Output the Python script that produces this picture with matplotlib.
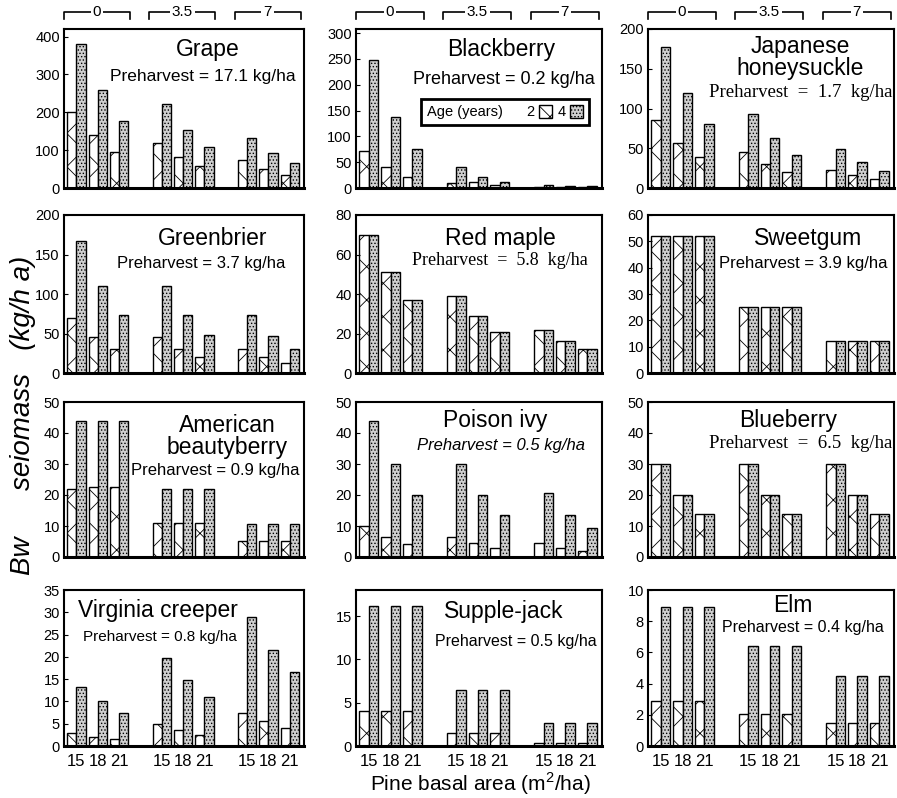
import numpy as np
import matplotlib.pyplot as plt
import matplotlib.patches as mpatches

plt.rcParams['font.family'] = ['Liberation Sans', 'DejaVu Sans']
plt.rcParams['hatch.linewidth'] = 0.6
plt.rcParams['mathtext.fontset'] = 'custom'
plt.rcParams['mathtext.rm'] = 'Liberation Sans'

# hardwood basal area groups and pine basal area within each group
hardwood_groups = ["0", "3.5", "7"]
pine_ba = ["15", "18", "21"]

# biomass (kg/ha), 9 values per species: (hardwood 0, 3.5, 7) x (pine 15, 18, 21)
grape_age2 = [200, 140, 95, 120, 82, 57, 73, 50, 35]
grape_age4 = [380, 258, 178, 222, 152, 107, 133, 93, 65]
blackberry_age2 = [72, 40, 22, 10, 12, 5, 2, 2, 1]
blackberry_age4 = [248, 137, 75, 40, 22, 12, 6, 4, 3]
honeysuckle_age2 = [85, 57, 39, 45, 30, 20, 23, 16, 11]
honeysuckle_age4 = [177, 120, 81, 93, 63, 42, 49, 33, 22]
greenbrier_age2 = [70, 46, 30, 46, 30, 20, 30, 20, 13]
greenbrier_age4 = [167, 110, 73, 110, 73, 48, 73, 47, 31]
redmaple_age2 = [70, 51, 37, 39, 29, 21, 22, 16, 12]
redmaple_age4 = [70, 51, 37, 39, 29, 21, 22, 16, 12]
sweetgum_age2 = [52, 52, 52, 25, 25, 25, 12, 12, 12]
sweetgum_age4 = [52, 52, 52, 25, 25, 25, 12, 12, 12]
beautyberry_age2 = [22, 22.5, 22.5, 11, 11, 11, 5.3, 5.3, 5.3]
beautyberry_age4 = [44, 44, 44, 22, 22, 22, 10.5, 10.5, 10.5]
poisonivy_age2 = [10, 6.5, 4.3, 6.5, 4.5, 3, 4.5, 3, 2]
poisonivy_age4 = [44, 30, 20, 30, 20, 13.5, 20.5, 13.5, 9.5]
blueberry_age2 = [30, 20, 14, 30, 20, 14, 30, 20, 14]
blueberry_age4 = [30, 20, 14, 30, 20, 14, 30, 20, 14]
creeper_age2 = [3, 2, 1.5, 5, 3.5, 2.5, 7.3, 5.5, 4]
creeper_age4 = [13.3, 10, 7.5, 19.7, 14.8, 11, 29, 21.5, 16.5]
supplejack_age2 = [4, 4, 4, 1.5, 1.5, 1.5, 0.3, 0.3, 0.3]
supplejack_age4 = [16.2, 16.2, 16.2, 6.5, 6.5, 6.5, 2.6, 2.6, 2.6]
elm_age2 = [2.9, 2.9, 2.9, 2.05, 2.05, 2.05, 1.45, 1.45, 1.45]
elm_age4 = [8.9, 8.9, 8.9, 6.4, 6.4, 6.4, 4.5, 4.5, 4.5]

species = ["Grape", "Blackberry", "Japanese\nhoneysuckle",
           "Greenbrier", "Red maple", "Sweetgum",
           "American\nbeautyberry", "Poison ivy", "Blueberry",
           "Virginia creeper", "Supple-jack", "Elm"]
preharvest = ["17.1", "0.2", "1.7", "3.7", "5.8", "3.9",
              "0.9", "0.5", "6.5", "0.8", "0.5", "0.4"]
age2 = [grape_age2, blackberry_age2, honeysuckle_age2,
        greenbrier_age2, redmaple_age2, sweetgum_age2,
        beautyberry_age2, poisonivy_age2, blueberry_age2,
        creeper_age2, supplejack_age2, elm_age2]
age4 = [grape_age4, blackberry_age4, honeysuckle_age4,
        greenbrier_age4, redmaple_age4, sweetgum_age4,
        beautyberry_age4, poisonivy_age4, blueberry_age4,
        creeper_age4, supplejack_age4, elm_age4]
ytop = [420, 308, 200, 200, 80, 60, 50, 50, 50, 35, 18, 10]
yticks = [np.arange(0, 401, 100), np.arange(0, 301, 50), np.arange(0, 201, 50),
          np.arange(0, 201, 50), np.arange(0, 81, 20), np.arange(0, 61, 10),
          np.arange(0, 51, 10), np.arange(0, 51, 10), np.arange(0, 51, 10),
          np.arange(0, 36, 5), np.arange(0, 16, 5), np.arange(0, 11, 2)]

# layout (axes fractions) for title and preharvest text, and its style
title_pos = [(0.60, 0.87), (0.59, 0.87), (0.62, 0.82),
             (0.62, 0.85), (0.585, 0.85), (0.65, 0.85),
             (0.68, 0.78), (0.565, 0.88), (0.57, 0.88),
             (0.39, 0.87), (0.60, 0.86), (0.59, 0.90)]
pre_pos = [(0.58, 0.70), (0.60, 0.68), (0.62, 0.60),
           (0.57, 0.69), (0.585, 0.71), (0.63, 0.69),
           (0.63, 0.555), (0.59, 0.72), (0.62, 0.73),
           (0.40, 0.70), (0.65, 0.67), (0.63, 0.76)]
pre_size = [12.5, 13, 13.5, 12, 13, 12, 12, 12, 13.5, 11, 11.5, 11.5]
pre_font = ["sans", "sans", "serif", "sans", "serif", "sans",
            "sans", "italic", "serif", "sans", "sans", "sans"]

W, H = 897, 798
cols_px = [(64, 304), (356, 602), (648, 894)]
rows_px = [(29, 188), (215, 373), (402, 557), (590, 746)]

fig = plt.figure(figsize=(W / 100, H / 100), dpi=100)

style2 = dict(facecolor="white", edgecolor="black", hatch="x", linewidth=1.0)
style4 = dict(facecolor="#cfcfcf", edgecolor="black", hatch=".....", linewidth=1.0)

x = np.array([g * 4 + i for g in range(3) for i in range(3)], dtype=float)
bw = 0.43

for k in range(12):
    r, c = divmod(k, 3)
    l, rgt = cols_px[c]
    t, b = rows_px[r]
    ax = fig.add_axes([l / W, 1 - b / H, (rgt - l) / W, (b - t) / H])

    ax.bar(x, age2[k], width=bw, align="edge", **style2)
    ax.bar(x + bw, age4[k], width=bw, align="edge", **style4)

    ax.set_xlim(-0.15, 11.1)
    ax.set_ylim(0, ytop[k])
    ax.set_yticks(yticks[k])
    ax.tick_params(axis="y", direction="in", length=3, labelsize=10.5, pad=3)
    for s in ax.spines.values():
        s.set_linewidth(1.5)
    ax.spines["bottom"].set_linewidth(2.2)

    if r == 3:
        ax.set_xticks(x + bw)
        ax.set_xticklabels(pine_ba * 3, fontsize=12)
        ax.tick_params(axis="x", length=0, pad=6)
    else:
        ax.set_xticks([])

    ax.text(*title_pos[k], species[k], transform=ax.transAxes,
            ha="center", va="center", fontsize=16.5, linespacing=0.95)
    if pre_font[k] == "serif":
        ax.text(*pre_pos[k], f"Preharvest  =  {preharvest[k]}  kg/ha",
                transform=ax.transAxes, ha="center", va="center",
                fontsize=pre_size[k], family="Liberation Serif")
    else:
        ax.text(*pre_pos[k], f"Preharvest = {preharvest[k]} kg/ha",
                transform=ax.transAxes, ha="center", va="center",
                fontsize=pre_size[k],
                style="italic" if pre_font[k] == "italic" else "normal")

    # hardwood basal area brackets above the top row
    if r == 0:
        tr = ax.get_xaxis_transform()
        for g, lab in enumerate(hardwood_groups):
            x0, x1 = g * 4 - 0.15, g * 4 + 2.95
            ax.plot([x0, x0, x1, x1], [1.06, 1.11, 1.11, 1.06], color="black",
                    lw=1.2, transform=tr, clip_on=False)
            ax.text((x0 + x1) / 2, 1.11, lab, transform=tr, ha="center",
                    va="center", fontsize=11,
                    bbox=dict(facecolor="white", edgecolor="none", pad=1.5))

    if k == 1:
        blank = mpatches.Patch(facecolor="none", edgecolor="none")
        h2 = mpatches.Patch(**style2)
        h4 = mpatches.Patch(**style4)
        leg = ax.legend([blank, h2, h4], ["Age (years)", "2", "4"], ncol=3,
                        markerfirst=False, loc="upper left",
                        bbox_to_anchor=(0.235, 0.605), fontsize=10.5,
                        handlelength=0.9, handleheight=1.0, handletextpad=0.3,
                        columnspacing=0.4, borderpad=0.4,
                        fancybox=False, edgecolor="black", framealpha=1)
        leg.get_frame().set_linewidth(2.0)

fig.text(0.026, 0.48, "Bw      seiomass   (kg/h a)", rotation=90, ha="center",
         va="center", fontsize=20, style="italic")
fig.text(0.535, 0.018, "Pine basal area (m$^2$/ha)", ha="center",
         va="center", fontsize=15)

fig.savefig("out.png", dpi=100)
